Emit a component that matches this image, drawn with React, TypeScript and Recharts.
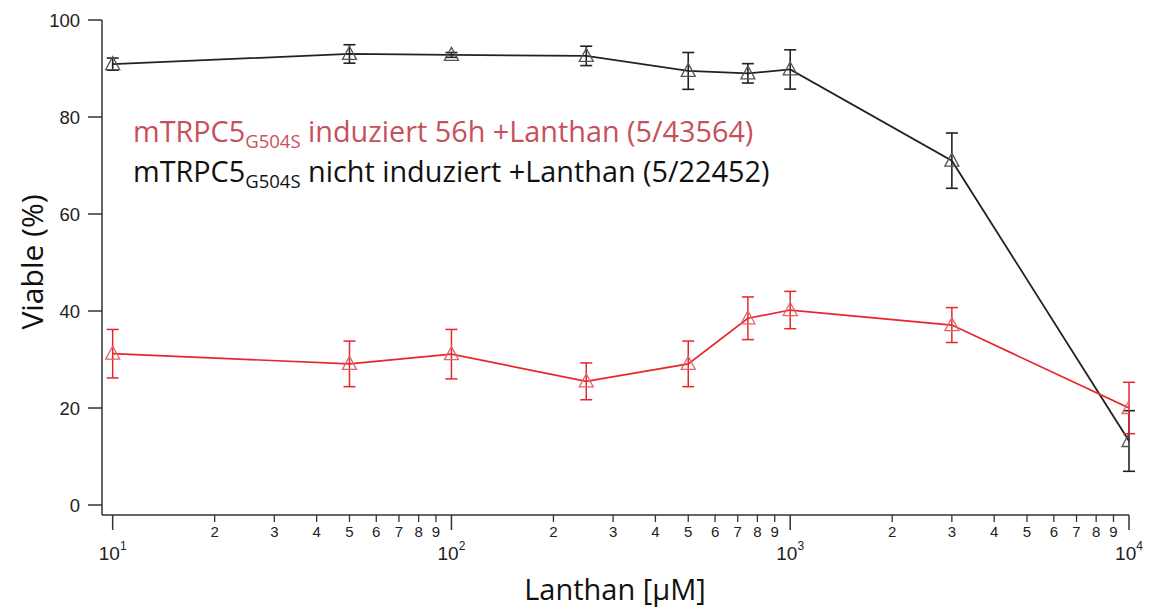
import React from "react";
import {
  LineChart,
  Line,
  XAxis,
  YAxis,
  ErrorBar,
} from "recharts";

// Lanthan concentration [µM]
const concentrations = [10, 50, 100, 250, 500, 750, 1000, 3000, 10000];

// mTRPC5 G504S nicht induziert (black)
const nichtInduziert = [90.9, 93.0, 92.8, 92.6, 89.5, 89.0, 89.8, 71.0, 13.2];
const nichtInduziertErr = [1.25, 1.9, 0.5, 2.0, 3.8, 2.0, 4.05, 5.7, 6.25];

// mTRPC5 G504S induziert 56h (red)
const induziert = [31.2, 29.1, 31.1, 25.5, 29.1, 38.5, 40.2, 37.1, 20.0];
const induziertErr = [5.0, 4.7, 5.1, 3.8, 4.7, 4.4, 3.85, 3.6, 5.3];

const xTicks = [
  10, 20, 30, 40, 50, 60, 70, 80, 90,
  100, 200, 300, 400, 500, 600, 700, 800, 900,
  1000, 2000, 3000, 4000, 5000, 6000, 7000, 8000, 9000,
  10000,
];
const yTicks = [0, 20, 40, 60, 80, 100];

const data = concentrations.map((c, i) => ({
  c,
  black: nichtInduziert[i],
  blackErr: nichtInduziertErr[i],
  red: induziert[i],
  redErr: induziertErr[i],
}));

const RED = "#e8262b";
const AXIS = "#333";
const TICK_FONT = "'Liberation Sans', Arial, sans-serif";
const TEXT_FONT = "'Open Sans', sans-serif";

const Triangle = (props: any) => {
  const { cx, cy, stroke, key } = props;
  if (cx == null || cy == null) return <g key={key} />;
  return (
    <path
      key={key}
      d={`M${cx},${cy - 7.5} L${cx + 7},${cy + 5.5} L${cx - 7},${cy + 5.5} Z`}
      fill="none"
      stroke={stroke}
      strokeWidth={1.3}
    />
  );
};

const XTick = (props: any) => {
  const { x, y, payload } = props;
  const v = payload.value as number;
  const exp = Math.log10(v);
  const major = Math.abs(exp - Math.round(exp)) < 1e-9;
  if (major) {
    return (
      <g>
        <line x1={x} y1={y} x2={x} y2={y + 15} stroke={AXIS} strokeWidth={1.5} />
        <text x={x} y={y + 45} textAnchor="middle" fontSize={19} fontFamily={TICK_FONT} fill="#222">
          10
          <tspan dy={-10} fontSize={12}>{Math.round(exp)}</tspan>
        </text>
      </g>
    );
  }
  const digit = Math.round(v / Math.pow(10, Math.floor(exp)));
  return (
    <g>
      <line x1={x} y1={y} x2={x} y2={y + 7} stroke={AXIS} strokeWidth={1.3} />
      <text x={x} y={y + 22} textAnchor="middle" fontSize={15} fontFamily={TICK_FONT} fill="#222">
        {digit}
      </text>
    </g>
  );
};

export default function App() {
  return (
    <div style={{ position: "absolute", left: 0, top: 0, width: 1149, height: 608, background: "#fff" }}>
      <LineChart
        width={1149}
        height={608}
        data={data}
        margin={{ top: 20, right: 20, bottom: 33, left: 42 }}
      >
        <XAxis
          dataKey="c"
          type="number"
          scale="log"
          domain={[9.3, 10000]}
          allowDataOverflow
          ticks={xTicks}
          interval={0}
          tickLine={false}
          tickSize={0}
          tickMargin={0}
          height={60}
          axisLine={{ stroke: AXIS, strokeWidth: 1.5 }}
          tick={<XTick />}
        />
        <YAxis
          type="number"
          domain={[-2.06, 100]}
          allowDataOverflow
          ticks={yTicks}
          width={60}
          tickSize={14}
          tickMargin={8}
          tickLine={{ stroke: AXIS, strokeWidth: 1.5 }}
          axisLine={{ stroke: AXIS, strokeWidth: 1.5 }}
          tick={{ fontSize: 18.5, fill: "#222", fontFamily: TICK_FONT }}
        />
        <Line
          dataKey="black"
          stroke="#222"
          strokeWidth={1.8}
          dot={(p: any) => <Triangle {...p} stroke="#555" />}
          activeDot={false}
          isAnimationActive={false}
        >
          <ErrorBar dataKey="blackErr" direction="y" width={6} stroke="#222" strokeWidth={1.6} isAnimationActive={false} />
        </Line>
        <Line
          dataKey="red"
          stroke={RED}
          strokeWidth={1.7}
          dot={(p: any) => <Triangle {...p} stroke="#e06468" />}
          activeDot={false}
          isAnimationActive={false}
        >
          <ErrorBar dataKey="redErr" direction="y" width={6} stroke={RED} strokeWidth={1.5} isAnimationActive={false} />
        </Line>
      </LineChart>
      <svg
        width={1149}
        height={608}
        style={{ position: "absolute", left: 0, top: 0, pointerEvents: "none" }}
      >
        <text x={133} y={142} fontSize={28.8} fontFamily={TEXT_FONT} fill="#c8505a">
          mTRPC5
          <tspan dy={6} fontSize={18.5}>G504S</tspan>
          <tspan dy={-6}> induziert 56h +Lanthan (5/43564)</tspan>
        </text>
        <text x={133} y={182} fontSize={28.8} fontFamily={TEXT_FONT} fill="#111">
          mTRPC5
          <tspan dy={6} fontSize={18.5}>G504S</tspan>
          <tspan dy={-6}> nicht induziert +Lanthan (5/22452)</tspan>
        </text>
        <text
          x={0}
          y={0}
          transform="translate(43,262) rotate(-90)"
          textAnchor="middle"
          fontSize={30}
          fontFamily={TEXT_FONT}
          fill="#111"
        >
          Viable (%)
        </text>
        <text x={615} y={600} textAnchor="middle" fontSize={29} fontFamily={TEXT_FONT} fill="#111">
          Lanthan [µM]
        </text>
      </svg>
    </div>
  );
}
